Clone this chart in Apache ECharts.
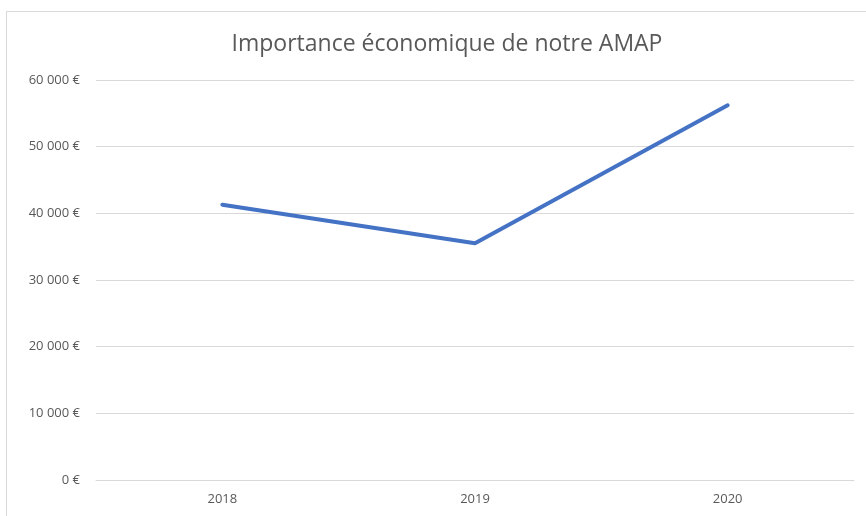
<!DOCTYPE html>
<html><head><meta charset="utf-8">
<script src="https://cdn.jsdelivr.net/npm/echarts@6/dist/echarts.min.js"></script>
<style>html,body{margin:0;padding:0;background:#fff}#c{width:866px;height:516px}</style>
</head><body><div id="c"></div>
<script>
const categories = ['2018', '2019', '2020'];
const values = [41300, 35500, 56200];
const yTicks = [0, 10000, 20000, 30000, 40000, 50000, 60000];
const titleText = 'Importance économique de notre AMAP';

const chart = echarts.init(document.getElementById('c'), null, {renderer: 'canvas'});
function fmt(v){ return v === 0 ? '0 €' : String(v).replace(/\B(?=(\d{3})+(?!\d))/g, '\u00a0') + ' €'; }
chart.setOption({
  animation: false,
  graphic: [{type: 'rect', shape: {x: 6.5, y: 11.5, width: 900, height: 600}, style: {fill: 'none', stroke: '#d9d9d9', lineWidth: 1}}],
  title: {text: titleText, left: 442, top: 28, textAlign: 'center', textStyle: {fontFamily: 'Open Sans', fontWeight: 'normal', fontSize: 23, color: '#595959'}},
  grid: {left: 96, right: 12, top: 80, bottom: 36},
  xAxis: {type: 'category', data: categories, boundaryGap: true,
    axisLine: {lineStyle: {color: '#d9d9d9'}}, axisTick: {show: false},
    axisLabel: {color: '#595959', fontFamily: 'Open Sans', fontSize: 13, margin: 13}},
  yAxis: {type: 'value', min: yTicks[0], max: yTicks[yTicks.length-1], interval: 10000,
    axisLine: {show: false}, axisTick: {show: false},
    splitLine: {lineStyle: {color: '#d9d9d9'}},
    axisLabel: {color: '#595959', fontFamily: 'Open Sans', fontSize: 13, margin: 16, formatter: fmt}},
  series: [{type: 'line', data: values, symbol: 'none', lineStyle: {color: '#4472C4', width: 4, cap: 'round'}}]
});
</script></body></html>
